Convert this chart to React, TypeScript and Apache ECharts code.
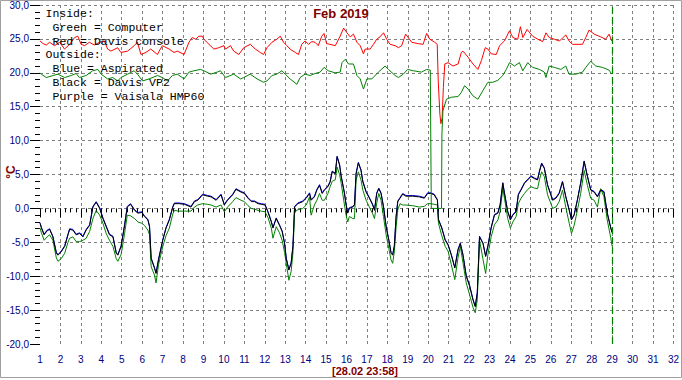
import React, { useEffect, useRef } from "react";
import * as echarts from "echarts";

const titleText = "Feb 2019";
const stampText = "[28.02 23:58]";
const unitText = "°C";
const legendLines = [
  { text: "Inside:", indent: false },
  { text: "Green = Computer", indent: true },
  { text: "Red = Davis console", indent: true },
  { text: "Outside:", indent: false },
  { text: "Blue = Aspirated", indent: true },
  { text: "Black = Davis VP2", indent: true },
  { text: "Purple = Vaisala HMP60", indent: true },
];
const nowDay = 29;

// Outside sensors: shared day positions
const outsideDays = [
  1.0, 1.07, 1.2, 1.35, 1.47, 1.63, 1.8, 1.88, 2.04, 2.21,
  2.37, 2.45, 2.61, 2.77, 2.94, 3.1, 3.26, 3.43, 3.59, 3.75,
  3.92, 4.08, 4.24, 4.4, 4.57, 4.73, 4.81, 4.97, 5.14, 5.27,
  5.43, 5.63, 5.79, 5.98, 6.11, 6.28, 6.36, 6.44, 6.6, 6.68,
  6.8, 7.01, 7.17, 7.33, 7.5, 7.58, 7.8, 8.07, 8.39, 8.56,
  8.72, 8.96, 9.21, 9.37, 9.62, 9.86, 10.02, 10.18, 10.43, 10.59,
  10.84, 11.0, 11.18, 11.34, 11.5, 11.67, 11.83, 12.01, 12.15, 12.32,
  12.4, 12.56, 12.72, 12.85, 12.97, 13.05, 13.18, 13.29, 13.38, 13.46,
  13.62, 13.86, 14.03, 14.19, 14.27, 14.43, 14.55, 14.68, 14.81, 14.92,
  15.09, 15.2, 15.3, 15.45, 15.54, 15.66, 15.74, 15.9, 15.98, 16.06,
  16.14, 16.31, 16.39, 16.47, 16.58, 16.71, 16.8, 16.96, 17.12, 17.28,
  17.37, 17.48, 17.58, 17.69, 17.81, 17.94, 18.07, 18.18, 18.26, 18.34,
  18.43, 18.51, 18.62, 18.75, 18.91, 19.24, 19.56, 19.81, 19.97, 20.13,
  20.29, 20.45, 20.5, 20.66, 20.83, 20.97, 21.13, 21.3, 21.46, 21.57,
  21.7, 21.86, 22.03, 22.19, 22.3, 22.4, 22.51, 22.68, 22.81, 22.92,
  23.08, 23.24, 23.41, 23.52, 23.65, 23.73, 23.89, 24.02, 24.14, 24.3,
  24.41, 24.54, 24.71, 24.87, 25.03, 25.19, 25.35, 25.44, 25.55, 25.68,
  25.84, 26.09, 26.25, 26.41, 26.57, 26.73, 26.9, 27.01, 27.14, 27.3,
  27.46, 27.63, 27.79, 27.95, 28.12, 28.28, 28.44, 28.6, 28.76, 28.93,
  29.0,
];

const vp2Temps = [
  -2.2, -2.9, -3.9, -3.3, -3.1, -4.2, -6.6, -6.9, -6.4, -5.6,
  -3.9, -3.1, -3.2, -3.9, -3.7, -4.2, -3.2, -2.5, 0.2, 0.9,
  0.0, -1.5, -2.7, -3.9, -4.2, -6.6, -6.9, -5.6, -2.5, 0.2,
  0.6, -0.3, -0.7, -0.6, -1.2, -1.7, -2.7, -7.4, -8.8, -9.6,
  -7.6, -4.7, -2.9, -1.7, 0.2, 0.7, 0.7, 0.6, 0.2, 1.0,
  1.2, 2.0, 1.8, 1.7, 1.2, 2.0, 0.5, 1.2, 2.0, 2.8,
  2.4, 2.2, 1.5, 1.0, 1.0, 0.7, 0.6, 0.5, -0.5, -2.0,
  -2.9, -1.5, -2.5, -3.4, -5.2, -7.4, -9.1, -8.1, -5.6, 0.2,
  0.7, 1.0, 1.5, 2.2, 1.2, 1.7, 2.7, 3.4, 2.2, 2.7,
  3.2, 3.9, 5.4, 5.1, 7.6, 6.4, 4.7, 2.2, 0.5, -0.7,
  0.0, 0.2, 0.5, 5.1, 6.7, 5.6, 3.9, 2.4, 1.5, 0.5,
  -0.3, 2.2, 2.9, 2.2, 0.2, -2.7, -4.7, -6.6, -6.9, -5.6,
  -1.2, 1.0, 1.5, 2.1, 1.8, 1.8, 1.7, 1.5, 2.2, 2.2,
  2.0, 1.2, -1.7, -2.9, -4.7, -5.4, -6.9, -8.8, -6.1, -5.2,
  -6.9, -10.0, -11.5, -13.5, -14.5, -12.5, -4.2, -5.2, -7.1, -5.6,
  -2.9, -1.0, -0.7, 0.5, 3.7, 2.2, -0.5, -1.7, -1.0, -0.5,
  2.0, 2.7, 3.7, 4.2, 4.7, 4.4, 4.2, 5.4, 6.6, 5.9,
  3.4, 1.2, 1.5, 2.2, 3.9, 1.7, -0.3, -1.7, -1.0, 1.2,
  3.7, 6.9, 4.7, 2.7, 2.4, 1.7, 2.7, 2.4, -0.7, -2.9,
  -3.6,
];

const aspiratedTemps = [
  -2.1, -2.8, -3.8, -3.2, -3.0, -4.1, -6.5, -6.8, -6.3, -5.5,
  -3.8, -3.0, -3.1, -3.8, -3.6, -4.1, -3.1, -2.4, 0.3, 1.0,
  0.1, -1.4, -2.6, -3.8, -4.1, -6.5, -6.8, -5.5, -2.4, 0.3,
  0.7, -0.2, -0.6, -0.5, -1.1, -1.6, -2.6, -7.3, -8.7, -9.5,
  -7.5, -4.6, -2.8, -1.6, 0.3, 0.8, 0.8, 0.7, 0.3, 1.1,
  1.3, 2.1, 1.9, 1.8, 1.3, 2.1, 0.6, 1.3, 2.1, 2.9,
  2.5, 2.3, 1.6, 1.1, 1.1, 0.8, 0.7, 0.6, -0.4, -1.9,
  -2.8, -1.4, -2.4, -3.3, -5.1, -7.3, -9.0, -8.0, -5.5, 0.3,
  0.8, 1.1, 1.6, 2.3, 1.3, 1.8, 2.8, 3.5, 2.3, 2.8,
  3.3, 4.0, 5.5, 5.2, 7.7, 6.5, 4.8, 2.3, 0.6, -0.6,
  0.1, 0.3, 0.6, 5.2, 6.8, 5.7, 4.0, 2.5, 1.6, 0.6,
  -0.2, 2.3, 3.0, 2.3, 0.3, -2.6, -4.6, -6.5, -6.8, -5.5,
  -1.1, 1.1, 1.6, 2.2, 1.9, 1.9, 1.8, 1.6, 2.3, 2.3,
  2.1, 1.3, -1.6, -2.8, -4.6, -5.3, -6.8, -8.7, -6.0, -5.1,
  -6.8, -9.9, -11.4, -13.4, -14.4, -12.4, -4.1, -5.1, -7.0, -5.5,
  -2.8, -0.9, -0.6, 0.6, 3.8, 2.3, -0.4, -1.6, -0.9, -0.4,
  2.1, 2.8, 3.8, 4.3, 4.8, 4.5, 4.3, 5.5, 6.7, 6.0,
  3.5, 1.3, 1.6, 2.3, 4.0, 1.8, -0.2, -1.6, -0.9, 1.3,
  3.8, 7.0, 4.8, 2.8, 2.5, 1.8, 2.8, 2.5, -0.6, -2.8,
  -3.5,
];

const hmp60Temps = [
  -2.9, -3.6, -4.7, -4.2, -3.9, -4.7, -7.3, -7.8, -7.4, -6.6,
  -5.0, -4.4, -4.2, -4.9, -4.9, -4.7, -4.4, -3.4, -1.5, -0.3,
  -1.0, -2.2, -3.7, -4.7, -5.6, -7.4, -7.8, -6.8, -3.7, -1.0,
  -1.1, -1.5, -2.0, -2.2, -2.5, -3.2, -3.9, -8.6, -9.8, -11.0,
  -8.3, -5.6, -4.0, -2.9, -0.8, -0.3, -0.4, -0.4, -0.4, 0.2,
  0.5, 0.7, 0.6, 0.5, 0.2, 0.5, -0.5, 0.2, 1.0, 1.6,
  1.2, 1.0, 0.4, 0.0, -0.1, -0.3, -0.4, -0.5, -1.3, -2.9,
  -4.4, -2.7, -3.6, -4.7, -6.5, -8.1, -10.6, -9.3, -6.5, -0.5,
  -0.2, 0.0, 0.5, 1.7, -1.0, 0.5, 1.2, 2.2, 1.2, 1.2,
  2.2, 3.2, 4.0, 4.2, 6.1, 5.0, 3.7, 0.5, -1.0, -2.0,
  -1.2, -1.5, -1.5, 4.2, 5.4, 4.2, 2.7, 1.2, 0.2, -0.8,
  -1.5, 0.8, 2.2, 1.2, -1.2, -3.9, -5.9, -7.6, -8.1, -6.4,
  -2.7, -0.2, 0.7, 0.5, 0.5, 0.4, 0.2, 0.3, 0.7, 0.7,
  0.6, 0.5, -2.2, -4.0, -5.6, -6.3, -8.3, -10.5, -7.2, -5.6,
  -8.0, -11.0, -12.8, -14.6, -15.4, -13.5, -4.7, -7.5, -9.6, -6.8,
  -4.2, -2.4, -1.7, -0.4, 2.9, 1.5, -1.5, -2.9, -2.0, -1.2,
  0.7, 1.5, 2.2, 2.8, 3.2, 3.0, 2.9, 4.2, 5.4, 4.7,
  2.0, 0.0, 0.2, 1.0, 2.7, 0.2, -2.2, -3.7, -2.5, -0.3,
  2.2, 5.6, 3.4, 1.5, 1.2, 0.2, 2.9, 1.7, -1.7, -4.3,
  -5.6,
];

// Inside sensors: [day, °C]
const consoleTemps: [number, number][] = [
  [1.0, 24.7], [1.15, 24.3], [1.31, 24.1], [1.47, 24.5], [1.71, 24.0], [1.96, 24.5], [2.2, 23.5], [2.45, 24.2],
  [2.69, 25.2], [2.85, 25.4], [3.01, 24.2], [3.18, 24.0], [3.42, 24.5], [3.66, 24.1], [3.91, 24.5], [4.15, 24.7],
  [4.31, 23.5], [4.47, 23.2], [4.8, 23.7], [4.96, 23.0], [5.29, 23.2], [5.61, 24.0], [5.77, 24.5], [5.94, 22.7],
  [6.18, 23.0], [6.42, 23.5], [6.75, 22.7], [6.83, 23.2], [6.99, 24.0], [7.32, 23.5], [7.56, 23.0], [7.72, 23.2],
  [8.05, 22.7], [8.29, 24.5], [8.45, 25.2], [8.62, 24.95], [8.78, 25.4], [8.94, 25.4], [9.02, 24.95], [9.27, 24.2],
  [9.51, 23.5], [9.75, 23.7], [10.0, 24.0], [10.08, 23.5], [10.32, 24.0], [10.48, 23.2], [10.73, 22.7], [10.97, 23.7],
  [11.29, 24.2], [11.54, 23.5], [11.78, 23.0], [11.94, 22.7], [12.11, 23.7], [12.35, 24.5], [12.59, 24.95], [12.76, 25.4],
  [12.92, 24.5], [13.08, 24.0], [13.24, 23.5], [13.49, 23.0], [13.65, 22.7], [13.81, 24.2], [13.97, 24.7], [14.14, 24.2],
  [14.3, 24.6], [14.46, 24.5], [14.62, 24.0], [14.79, 25.4], [14.9, 25.8], [15.03, 24.3], [15.19, 24.2], [15.45, 24.0],
  [15.69, 25.4], [15.86, 26.6], [16.02, 25.9], [16.18, 25.3], [16.34, 25.7], [16.51, 24.5], [16.67, 24.0], [16.83, 22.8],
  [16.91, 23.5], [17.16, 23.5], [17.32, 24.2], [17.48, 24.95], [17.64, 25.3], [17.81, 25.9], [17.97, 24.95], [18.13, 24.2],
  [18.38, 24.0], [18.54, 23.7], [18.7, 24.0], [18.89, 25.7], [19.02, 25.2], [19.19, 24.5], [19.51, 24.3], [19.75, 24.2],
  [19.92, 25.8], [20.08, 24.95], [20.32, 24.5], [20.44, 24.2], [20.49, 18.8], [20.57, 13.9], [20.62, 12.5], [20.68, 13.4],
  [20.74, 17.8], [20.81, 21.3], [20.97, 21.5], [21.21, 21.0], [21.46, 21.3], [21.62, 23.0], [21.7, 23.2], [21.95, 22.3],
  [22.19, 21.3], [22.43, 20.5], [22.6, 21.8], [22.79, 23.7], [22.92, 23.5], [23.08, 22.8], [23.33, 22.7], [23.49, 24.0],
  [23.73, 24.7], [23.98, 26.2], [24.14, 25.2], [24.38, 24.95], [24.51, 26.8], [24.63, 25.2], [24.84, 26.4], [25.11, 25.4],
  [25.36, 24.95], [25.6, 24.6], [25.76, 25.9], [25.92, 25.2], [26.17, 24.95], [26.41, 24.7], [26.52, 24.95], [26.73, 25.6],
  [26.89, 24.7], [27.06, 24.2], [27.55, 24.2], [27.71, 25.2], [27.87, 26.3], [28.12, 25.7], [28.44, 25.3], [28.68, 24.95],
  [28.85, 25.7], [28.98, 24.7],
];

const computerTemps: [number, number][] = [
  [1.0, 20.0], [1.06, 19.8], [1.31, 19.3], [1.64, 19.6], [1.88, 19.8], [2.2, 19.3], [2.53, 19.6], [2.77, 19.9],
  [2.93, 19.3], [3.26, 19.6], [3.58, 20.3], [3.83, 20.5], [3.99, 19.8], [4.31, 19.1], [4.56, 19.3], [4.8, 18.8],
  [4.96, 19.3], [5.29, 19.8], [5.61, 20.3], [5.77, 19.8], [6.02, 18.8], [6.34, 19.1], [6.75, 19.6], [6.99, 19.3],
  [7.24, 18.8], [7.48, 19.6], [7.72, 19.8], [8.05, 19.1], [8.29, 20.1], [8.53, 20.3], [8.86, 20.5], [9.02, 20.3],
  [9.35, 19.8], [9.67, 20.1], [9.83, 20.3], [10.08, 19.3], [10.48, 19.8], [10.81, 19.1], [10.97, 19.3], [11.29, 19.8],
  [11.62, 19.1], [11.94, 18.6], [12.11, 18.8], [12.35, 19.6], [12.59, 19.8], [12.84, 20.3], [13.0, 19.8], [13.24, 19.1],
  [13.57, 18.3], [13.73, 19.3], [13.97, 19.8], [14.22, 19.6], [14.46, 19.9], [14.71, 20.1], [14.9, 20.8], [15.11, 20.3],
  [15.44, 20.0], [15.69, 20.1], [15.78, 21.5], [15.94, 22.0], [16.1, 21.3], [16.34, 21.3], [16.51, 19.6], [16.67, 19.1],
  [16.83, 17.6], [17.0, 19.1], [17.24, 19.1], [17.56, 20.1], [17.89, 21.0], [18.05, 20.5], [18.38, 19.6], [18.54, 19.3],
  [18.78, 19.8], [18.99, 20.5], [19.27, 20.3], [19.67, 20.1], [19.92, 20.5], [20.1, 20.4], [20.15, 0.0], [20.65, 0.0],
  [20.67, 11.0], [20.72, 14.4], [20.89, 16.1], [21.13, 16.4], [21.46, 16.5], [21.62, 17.1], [21.78, 18.1], [21.95, 17.6],
  [22.19, 16.6], [22.43, 16.1], [22.68, 17.4], [22.92, 18.6], [23.16, 18.6], [23.41, 18.9], [23.65, 19.6], [23.82, 20.5],
  [23.98, 21.5], [24.22, 21.0], [24.46, 21.5], [24.63, 20.3], [24.87, 21.5], [25.11, 20.8], [25.44, 20.5], [25.68, 20.1],
  [25.76, 19.3], [25.92, 21.0], [26.17, 20.8], [26.49, 20.5], [26.73, 21.0], [26.89, 19.8], [27.22, 19.8], [27.55, 20.1],
  [27.71, 20.8], [27.95, 21.7], [28.2, 21.0], [28.52, 20.8], [28.85, 20.4], [28.98, 19.8],
];

const NAVY = "#000080";
const MAROON = "#800000";
const GRID_COLOR = "#808080";

function lineSeries(name: string, data: number[][], color: string, extra: any = {}) {
  return {
    name,
    type: "line",
    data,
    showSymbol: false,
    symbol: "none",
    lineStyle: { color, width: 1 },
    itemStyle: { color },
    silent: true,
    ...extra,
  };
}

export default function App() {
  const ref = useRef<HTMLDivElement>(null);

  useEffect(() => {
    if (!ref.current) return;
    const chart = echarts.init(ref.current, undefined, { renderer: "svg" });
    const pair = (vals: number[]) => outsideDays.map((d, i) => [d, vals[i]]);

    const legendGraphics = legendLines.map((l, i) => ({
      type: "text",
      z: 100,
      x: l.indent ? 52.5 : 45.5,
      y: 13.3 + i * 13.85,
      style: {
        text: l.text,
        fill: "#000000",
        font: "11.5px 'Liberation Mono', 'Courier New', monospace",
        verticalAlign: "middle",
        align: "left",
      },
    }));

    const option: any = {
      animation: false,
      backgroundColor: "#ffffff",
      grid: { left: 40, right: 5.6, top: 4, bottom: 36, containLabel: false },
      xAxis: {
        type: "value",
        min: 1,
        max: 32,
        interval: 1,
        axisLine: { show: false },
        axisTick: { show: true, length: 9, lineStyle: { color: "#000000", width: 1 } },
        minorTick: { show: true, splitNumber: 4, length: 4, lineStyle: { color: "#000000", width: 1 } },
        axisLabel: {
          color: NAVY,
          fontSize: 10,
          fontFamily: "'Liberation Sans', Arial, sans-serif",
          margin: 10,
        },
        splitLine: {
          show: true,
          showMinLine: false,
          lineStyle: { color: GRID_COLOR, type: [3, 3], width: 1 },
        },
      },
      yAxis: {
        type: "value",
        min: -20,
        max: 30,
        interval: 5,
        axisLine: { show: false },
        axisTick: { show: true, length: 10, lineStyle: { color: "#000000", width: 1 } },
        minorTick: { show: true, splitNumber: 5, length: 5, lineStyle: { color: "#000000", width: 1 } },
        axisLabel: {
          color: NAVY,
          fontSize: 10,
          fontFamily: "'Liberation Sans', Arial, sans-serif",
          margin: 11,
          formatter: (v: number) => v.toFixed(1).replace(".", ","),
        },
        splitLine: {
          show: true,
          showMinLine: false,
          lineStyle: { color: GRID_COLOR, type: [3, 3], width: 1 },
        },
      },
      series: [
        lineSeries("Aspirated", pair(aspiratedTemps), "#0000ff"),
        lineSeries("Vaisala HMP60", pair(hmp60Temps), "#008000"),
        lineSeries("Davis VP2", pair(vp2Temps), "#000000"),
        lineSeries("Davis console", consoleTemps, "#ff0000"),
        lineSeries("Computer", computerTemps, "#008000", {
          markLine: {
            silent: true,
            symbol: "none",
            label: { show: false },
            lineStyle: { color: "#008000", type: [7, 3], width: 1.2 },
            data: [{ xAxis: nowDay }],
          },
        }),
      ],
      graphic: [
        {
          type: "rect",
          z: 100,
          shape: { x: 0.5, y: 0.5, width: 681, height: 377 },
          style: { fill: "none", stroke: "#a0a0a0", lineWidth: 1 },
          silent: true,
        },
        {
          type: "text",
          z: 100,
          x: 341,
          y: 13,
          style: {
            text: titleText,
            fill: MAROON,
            font: "bold 13px 'Liberation Sans', Arial, sans-serif",
            align: "center",
            verticalAlign: "middle",
          },
        },
        {
          type: "text",
          z: 100,
          x: 11,
          y: 172,
          rotation: Math.PI / 2,
          style: {
            text: unitText,
            fill: MAROON,
            font: "bold 12px 'Liberation Sans', Arial, sans-serif",
            align: "center",
            verticalAlign: "middle",
          },
        },
        {
          type: "text",
          z: 100,
          x: 365,
          y: 370.5,
          style: {
            text: stampText,
            fill: MAROON,
            font: "bold 11px 'Liberation Sans', Arial, sans-serif",
            align: "center",
            verticalAlign: "middle",
          },
        },
        ...legendGraphics,
      ],
    };

    chart.setOption(option);
    return () => {
      chart.dispose();
    };
  }, []);

  return (
    <div
      ref={ref}
      style={{ position: "fixed", left: 0, top: 0, width: 682, height: 380, background: "#ffffff" }}
    />
  );
}
